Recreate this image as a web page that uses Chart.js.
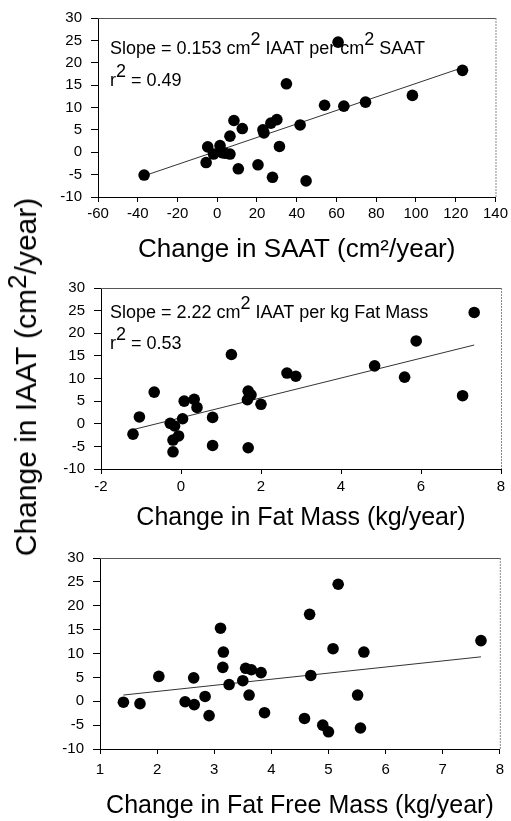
<!DOCTYPE html>
<html>
<head>
<meta charset="utf-8">
<script src="https://cdn.jsdelivr.net/npm/chart.js@4.4.0/dist/chart.umd.min.js"></script>
<style>
  body { margin: 0; background: #fff; }
  #wrap { position: relative; width: 511px; height: 821px; }
  canvas { position: absolute; left: 0; }
  #ytitle {
    position: absolute; left: 26px; top: 377px;
    font: 30px "Liberation Sans", Arial, sans-serif; color: #000;
    white-space: nowrap;
    transform: translate(-50%, -50%) rotate(-90deg);
  }
  #ytitle sup { font-size: 26px; vertical-align: 10px; line-height: 0; }
</style>
</head>
<body>
<div id="wrap">
  <canvas id="saat" width="511" height="270" style="top:0"></canvas>
  <canvas id="fm" width="511" height="270" style="top:270px"></canvas>
  <canvas id="ffm" width="511" height="281" style="top:540px"></canvas>
  <div id="ytitle">Change in IAAT (cm<sup>2</sup>/year)</div>
</div>
<script>
const FONT = '"Liberation Sans", Arial, sans-serif';

// tick labels
const yTicks = [-10, -5, 0, 5, 10, 15, 20, 25, 30];
const saatTicks = [-60, -40, -20, 0, 20, 40, 60, 80, 100, 120, 140];
const fmTicks = [-2, 0, 2, 4, 6, 8];
const ffmTicks = [1, 2, 3, 4, 5, 6, 7, 8];

// change in SAAT vs change in IAAT
const saatX = [-36.8, -4.8, -5.6, -1.9, 1.4, 2.4, 3.8, 6.4, 6.4, 8.4, 12.6, 10.6, 20.5, 23.0,
               23.5, 27.0, 30.0, 31.3, 27.8, 34.8, 41.7, 44.7, 54.0, 63.7, 74.6, 60.8, 98.2, 123.4];
const saatY = [-5.1, 1.2, -2.3, -0.4, 1.5, -0.1, -0.2, -0.4, 3.6, 7.1, 5.3, -3.7, -2.8, 5.0,
               4.3, 6.5, 7.3, 1.3, -5.6, 15.3, 6.1, -6.4, 10.5, 10.3, 11.2, 24.6, 12.7, 18.3];
const saatFitX = [-37, 124];
const saatFitY = [-5.3, 19.0];

// change in fat mass vs change in IAAT
const fmX = [-1.2, -1.04, -0.67, -0.27, -0.16, -0.2, -0.06, -0.2, 0.04, 0.08, 0.33, 0.4, 0.79, 0.79,
             1.26, 1.68, 1.75, 1.66, 1.68, 2.0, 2.65, 2.87, 4.84, 5.59, 5.88, 7.04, 7.33];
const fmY = [-2.3, 1.5, 7.0, 0.1, -0.5, -3.6, -2.7, -6.2, 1.1, 5.0, 5.4, 3.6, 1.4, -4.8,
             15.3, 7.2, 6.4, 5.3, -5.3, 4.3, 11.2, 10.5, 12.8, 10.3, 18.3, 6.2, 24.6];
const fmFitX = [-1.2, 7.33];
const fmFitY = [-1.3, 17.4];

// change in fat free mass vs change in IAAT
const ffmX = [1.41, 1.70, 2.03, 2.49, 2.64, 2.65, 2.84, 2.91, 3.11, 3.16, 3.15, 3.26, 3.50, 3.55, 3.65,
              3.82, 3.61, 3.88, 4.58, 4.67, 4.69, 4.90, 5.00, 5.08, 5.17, 5.51, 5.56, 5.62, 7.67];
const ffmY = [-0.2, -0.5, 5.2, -0.1, 4.9, -0.7, 1.0, -3.0, 15.3, 10.3, 7.1, 3.5, 4.3, 6.9, 6.6,
              6.0, 1.3, -2.4, -3.6, 18.2, 5.4, -5.0, -6.4, 11.0, 24.5, 1.3, -5.6, 10.3, 12.7];
const ffmFitX = [1.41, 7.67];
const ffmFitY = [1.3, 9.3];

function toPoints(xs, ys) {
    return xs.map((x, i) => ({ x: x, y: ys[i] }));
}

// top/right frame and the slope text in the corner
const framePlugin = {
    id: 'frame',
    afterDraw(chart, args, opts) {
        const { ctx, chartArea: a } = chart;
        ctx.save();
        ctx.lineWidth = 1;
        ctx.strokeStyle = '#555';
        ctx.beginPath();
        ctx.moveTo(a.left, a.top + 0.5);
        ctx.lineTo(a.right + 0.5, a.top + 0.5);
        ctx.stroke();
        ctx.strokeStyle = '#888';
        ctx.setLineDash([2, 1]);
        ctx.beginPath();
        ctx.moveTo(a.right + 0.5, a.top);
        ctx.lineTo(a.right + 0.5, a.bottom);
        ctx.stroke();
        ctx.setLineDash([]);

        ctx.fillStyle = '#000';
        ctx.font = '18px ' + FONT;
        ctx.textBaseline = 'alphabetic';
        (opts.lines || []).forEach((line, i) => {
            let x = a.left + opts.dx;
            const y = a.top + opts.dy[i];
            line.forEach(seg => {
                const sup = seg.charAt(0) === '^';
                const t = sup ? seg.slice(1) : seg;
                ctx.fillText(t, x, sup ? y - 9 : y);
                x += ctx.measureText(t).width;
            });
        });
        ctx.restore();
    }
};

function makePanel(id, pts, fit, xTicks, xTitle, box, notes) {
    const ctx = document.getElementById(id).getContext('2d');
    return new Chart(ctx, {
        type: 'scatter',
        data: {
            datasets: [{
                data: pts,
                backgroundColor: '#000',
                borderWidth: 0,
                pointRadius: 5.8,
                pointHoverRadius: 5.8
            }, {
                data: fit,
                showLine: true,
                borderColor: '#333',
                borderWidth: 1,
                pointRadius: 0,
                fill: false
            }]
        },
        options: {
            responsive: false,
            animation: false,
            events: [],
            layout: { padding: { top: box.areaTop, right: 10, left: 0, bottom: 0 } },
            plugins: {
                legend: { display: false },
                tooltip: { enabled: false },
                frame: notes
            },
            scales: {
                x: {
                    type: 'linear',
                    min: xTicks[0],
                    max: xTicks[xTicks.length - 1],
                    afterBuildTicks: s => { s.ticks = xTicks.map(v => ({ value: v })); },
                    afterFit: s => { s.height = box.xHeight; },
                    grid: { drawOnChartArea: false, drawTicks: true, tickLength: 5, color: '#000' },
                    border: { display: true, color: '#000', width: 1 },
                    ticks: { color: '#000', font: { size: 15, family: FONT }, padding: box.tickPad,
                             maxRotation: 0, autoSkip: false },
                    title: { display: true, text: xTitle, color: '#000',
                             font: { size: box.titleSize, family: FONT }, padding: { top: 0, bottom: box.titlePad } }
                },
                y: {
                    min: -10,
                    max: 30,
                    afterBuildTicks: s => { s.ticks = yTicks.map(v => ({ value: v })); },
                    afterFit: s => { s.width = box.left; },
                    grid: { drawOnChartArea: false, drawTicks: true, tickLength: 7, color: '#000' },
                    border: { display: true, color: '#000', width: 1 },
                    ticks: { color: '#000', font: { size: 15, family: FONT }, padding: 9 }
                }
            }
        },
        plugins: [framePlugin]
    });
}

makePanel('saat', toPoints(saatX, saatY), toPoints(saatFitX, saatFitY), saatTicks,
    'Change in SAAT (cm\u00B2/year)',
    { areaTop: 14, xHeight: 73, left: 98, tickPad: 3, titlePad: 5, titleSize: 26 },
    { dx: 12, dy: [36, 68], lines: [
        ['Slope = 0.153 cm', '^2', ' IAAT per cm', '^2', ' SAAT'],
        ['r', '^2', ' = 0.49']
    ] });

makePanel('fm', toPoints(fmX, fmY), toPoints(fmFitX, fmFitY), fmTicks,
    'Change in Fat Mass (kg/year)',
    { areaTop: 13, xHeight: 71, left: 101, tickPad: 4, titlePad: 7, titleSize: 25 },
    { dx: 9, dy: [29.5, 61], lines: [
        ['Slope = 2.22 cm', '^2', ' IAAT per kg Fat Mass'],
        ['r', '^2', ' = 0.53']
    ] });

makePanel('ffm', toPoints(ffmX, ffmY), toPoints(ffmFitX, ffmFitY), ffmTicks,
    'Change in Fat Free Mass (kg/year)',
    { areaTop: 14, xHeight: 72, left: 100, tickPad: 7, titlePad: 0, titleSize: 25 },
    { dx: 0, dy: [], lines: [] });
</script>
</body>
</html>
